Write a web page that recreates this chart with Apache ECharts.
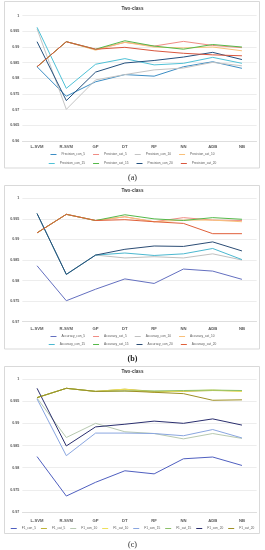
<!DOCTYPE html>
<html><head><meta charset="utf-8">
<script src="https://cdn.jsdelivr.net/npm/echarts@6/dist/echarts.min.js"></script>
<style>html,body{margin:0;padding:0;background:#fff}#c{width:265px;height:550px}</style>
</head><body><div id="c"></div>
<script>
const categories = ['L-SVM','R-SVM','GP','DT','RF','NN','ADB','NB'];
const yTicksA = [0.96, 1, 0.005];
const yTicksBC = [0.97, 1, 0.005];

// (a) Precision
const precCon5  = [0.9837, 0.9743, 0.9789, 0.9812, 0.9807, 0.9837, 0.9853, 0.9832];
const precCat5  = [0.9837, 0.9917, 0.9892, 0.9915, 0.9903, 0.9918, 0.9905, 0.9898];
const precCon10 = [0.9958, 0.9701, 0.9795, 0.9812, 0.9827, 0.9833, 0.9851, 0.9840];
const precCat10 = [0.9837, 0.9917, 0.9890, 0.9915, 0.9900, 0.9897, 0.9900, 0.9888];
const precCon15 = [0.9963, 0.9768, 0.9845, 0.9863, 0.9843, 0.9848, 0.9867, 0.9848];
const precCat15 = [0.9837, 0.9917, 0.9893, 0.9920, 0.9903, 0.9893, 0.9908, 0.9900];
const precCon20 = [0.9917, 0.9729, 0.9820, 0.9849, 0.9857, 0.9868, 0.9883, 0.9860];
const precCat20 = [0.9837, 0.9917, 0.9893, 0.9899, 0.9888, 0.9880, 0.9875, 0.9872];

// (b) Accuracy
const accCon5  = [0.9836, 0.9751, 0.9779, 0.9804, 0.9793, 0.9828, 0.9823, 0.9803];
const accCat5  = [0.9916, 0.9961, 0.9946, 0.9955, 0.9943, 0.9953, 0.9947, 0.9946];
const accCon10 = [0.9963, 0.9815, 0.9862, 0.9855, 0.9858, 0.9855, 0.9865, 0.9850];
const accCat10 = [0.9916, 0.9961, 0.9946, 0.9955, 0.9943, 0.9947, 0.9947, 0.9943];
const accCon15 = [0.9963, 0.9815, 0.9862, 0.9867, 0.9861, 0.9865, 0.9878, 0.9851];
const accCat15 = [0.9916, 0.9961, 0.9946, 0.9960, 0.9950, 0.9946, 0.9953, 0.9949];
const accCon20 = [0.9963, 0.9815, 0.9862, 0.9876, 0.9884, 0.9883, 0.9894, 0.9872];
const accCat20 = [0.9916, 0.9961, 0.9946, 0.9948, 0.9943, 0.9939, 0.9914, 0.9914];

// (c) F1
const f1Con5  = [0.9825, 0.9736, 0.9767, 0.9793, 0.9786, 0.9820, 0.9824, 0.9805];
const f1Cat5  = [0.9958, 0.9979, 0.9972, 0.9977, 0.9972, 0.9972, 0.9974, 0.9973];
const f1Con10 = [0.9957, 0.9868, 0.9900, 0.9881, 0.9877, 0.9865, 0.9877, 0.9866];
const f1Cat10 = [0.9958, 0.9979, 0.9972, 0.9977, 0.9970, 0.9973, 0.9975, 0.9972];
const f1Con15 = [0.9955, 0.9827, 0.9878, 0.9878, 0.9877, 0.9872, 0.9886, 0.9867];
const f1Cat15 = [0.9958, 0.9979, 0.9972, 0.9973, 0.9973, 0.9974, 0.9975, 0.9974];
const f1Con20 = [0.9979, 0.9849, 0.9892, 0.9898, 0.9905, 0.9900, 0.9910, 0.9896];
const f1Cat20 = [0.9958, 0.9979, 0.9972, 0.9973, 0.9970, 0.9967, 0.9952, 0.9953];

const panels = [
  {prefix:'Precision_', data:[precCon5,precCat5,precCon10,precCat10,precCon15,precCat15,precCon20,precCat20],
   colors:['#3C8DC4','#F08C84','#C4C4C4','#F9C07A','#4FC1D6','#55B94A','#23507E','#D9573E'], ticks:yTicksA},
  {prefix:'Accuracy_', data:[accCon5,accCat5,accCon10,accCat10,accCon15,accCat15,accCon20,accCat20],
   colors:['#6470C0','#F08C84','#C0C0C0','#F9C07A','#4BB8D0','#55B94A','#2B4C74','#E0603A'], ticks:yTicksBC},
  {prefix:'F1_', data:[f1Con5,f1Cat5,f1Con10,f1Cat10,f1Con15,f1Cat15,f1Con20,f1Cat20],
   colors:['#4F5FC0','#BFB43A','#B7C9B0','#EEE05A','#8AA6E0','#8CC06A','#2A2E6E','#9E8F25'], ticks:yTicksBC}
];
const suffixes = ['con_5','cat_5','con_10','cat_10','con_15','cat_15','con_20','cat_20'];

const layout = [
  {gridTop:15.7, gridH:125.3, title:6.5, xMargin:4, legendTops:[153,162], caption:'(a)', capY:178, box:[4.5,1.5,255,166.5], capBold:'normal'},
  {gridTop:198.3, gridH:123.4, title:188.5, xMargin:5, legendTops:[335,343], caption:'(b)', capY:359, box:[4.5,185.5,255,163.5], capBold:'bold'},
  {gridTop:379, gridH:133, title:369.5, xMargin:7, legendTops:[527], caption:'(c)', capY:545, box:[4.5,366.5,255,167], capBold:'normal'}
];

const font = 'Liberation Sans';
const option = {
  animation:false,
  backgroundColor:'#fff',
  title:[], grid:[], xAxis:[], yAxis:[], series:[], legend:[], graphic:[]
};

panels.forEach((p, i) => {
  const L = layout[i];
  const names = suffixes.map(s => p.prefix + s);
  option.graphic.push({type:'rect', z:-10, shape:{x:L.box[0], y:L.box[1], width:L.box[2], height:L.box[3]},
    style:{fill:'#fff', stroke:'#D9D9D9', lineWidth:1}});
  option.graphic.push({type:'text', x:132.5, y:L.capY, style:{text:L.caption, fontFamily:'Liberation Serif', fontSize:8,
    fontWeight:L.capBold, fill:'#222', align:'center', verticalAlign:'middle'}});
  option.title.push({text:'Two-class', left:'center', top:L.title, padding:0,
    textStyle:{fontFamily:font, fontSize:4.6, fontWeight:'bold', color:'#404040'}});
  option.grid.push({left:22.4, width:234.2, top:L.gridTop, height:L.gridH, containLabel:false});
  option.xAxis.push({type:'category', gridIndex:i, data:categories, boundaryGap:true,
    axisLine:{show:true, lineStyle:{color:'#D9D9D9', width:0.8}}, axisTick:{show:false},
    axisLabel:{margin:L.xMargin, fontFamily:font, fontSize:4.2, fontWeight:'bold', color:'#595959', interval:0}});
  option.yAxis.push({type:'value', gridIndex:i, min:p.ticks[0], max:p.ticks[1], interval:p.ticks[2],
    axisLine:{show:false}, axisTick:{show:false},
    splitLine:{lineStyle:{color:'#E8E8E8', width:0.8}},
    axisLabel:{margin:3, fontFamily:font, fontSize:3.7, fontWeight:'bold', color:'#595959',
      formatter: v => String(+v.toFixed(3))}});
  names.forEach((n, k) => {
    option.series.push({type:'line', name:n, xAxisIndex:i, yAxisIndex:i, data:p.data[k],
      symbol:'none', lineStyle:{width:1, color:p.colors[k]}, itemStyle:{color:p.colors[k]}});
  });
  const legendBase = {left:'center', padding:0, itemWidth:6, itemHeight:1, itemGap:i===2?5:8,
    icon:'rect', textStyle:{fontFamily:font, fontSize:3.2, color:'#595959'}};
  if (L.legendTops.length === 2) {
    option.legend.push(Object.assign({}, legendBase, {top:L.legendTops[0], data:names.slice(0,4)}));
    option.legend.push(Object.assign({}, legendBase, {top:L.legendTops[1], data:names.slice(4)}));
  } else {
    option.legend.push(Object.assign({}, legendBase, {top:L.legendTops[0], data:names}));
  }
});

const chart = echarts.init(document.getElementById('c'), null, {renderer:'canvas'});
chart.setOption(option);
</script></body></html>
